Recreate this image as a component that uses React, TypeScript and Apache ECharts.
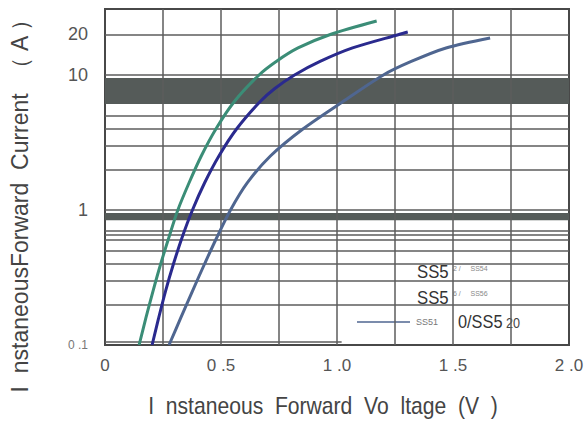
import React, { useEffect, useRef } from "react";
import * as echarts from "echarts";

// x axis (V)
const xMin = 0;
const xMax = 2.0;
const xStep = 0.25;
const gridLinesX = [0.25, 0.5, 0.75, 1.0, 1.25, 1.5, 1.75];
// y axis (A), log scale
const yMin = 0.1;
const yMax = 30.8;
const yLabelValues = [0.1, 1, 10];
const extraYLabel = 20;
const gridLinesY = [0.2, 0.3, 0.4, 0.5, 0.6, 0.65, 0.7, 1, 2, 3, 4, 5, 10, 20];
const bandsY: [number, number][] = [
  [0.84, 0.95],
  [6.1, 9.5],
];

// SS52/SS54 (green)
const greenV = [0.147, 0.176, 0.207, 0.24, 0.276, 0.314, 0.362, 0.415, 0.478, 0.556, 0.664, 0.738, 0.832, 0.971, 1.171];
const greenI = [0.1, 0.158, 0.251, 0.398, 0.631, 1.0, 1.585, 2.512, 3.981, 6.31, 10.0, 12.59, 15.85, 19.95, 25.1];
// SS55/SS56 (navy)
const blueV = [0.203, 0.231, 0.261, 0.295, 0.333, 0.377, 0.429, 0.491, 0.567, 0.667, 0.732, 0.817, 0.927, 1.067, 1.267, 1.305];
const blueI = [0.1, 0.158, 0.251, 0.398, 0.631, 1.0, 1.585, 2.512, 3.981, 6.31, 7.94, 10.0, 12.59, 15.85, 19.95, 20.8];
// SS510/SS520 (grey blue)
const greyV = [0.276, 0.326, 0.377, 0.429, 0.483, 0.541, 0.613, 0.713, 0.853, 1.023, 1.2, 1.32, 1.47, 1.66];
const greyI = [0.1, 0.158, 0.251, 0.398, 0.631, 1.0, 1.585, 2.512, 3.981, 6.31, 10.0, 12.59, 15.85, 18.8];

const zip = (a: number[], b: number[]) => a.map((v, i) => [v, b[i]]);

const SANS = '"Liberation Sans", Arial, sans-serif';

export default function App() {
  const ref = useRef<HTMLDivElement>(null);
  useEffect(() => {
    if (!ref.current) return;
    const chart = echarts.init(ref.current, undefined, { renderer: "svg" });
    const gridColor = "#5c5c5c";
    const curve = (name: string, data: number[][], color: string) => ({
      type: "line",
      name,
      data,
      smooth: 0.3,
      showSymbol: false,
      silent: true,
      z: 5,
      lineStyle: { color, width: 3 },
    });
    const txt = (
      x: number,
      y: number,
      text: string,
      fontSize: number,
      fill: string,
      scaleX = 1
    ) => ({
      type: "text",
      x,
      y,
      scaleX,
      silent: true,
      style: { text, fontFamily: SANS, fontSize, fill, align: "left", verticalAlign: "middle" },
    });
    chart.setOption({
      animation: false,
      backgroundColor: "#ffffff",
      grid: {
        left: 105,
        right: 18,
        top: 9,
        bottom: 78,
        show: true,
        borderColor: "#484848",
        borderWidth: 2,
      },
      xAxis: {
        type: "value",
        min: xMin,
        max: xMax,
        interval: xStep,
        axisLine: { show: true, lineStyle: { color: "#484848", width: 2 } },
        axisTick: { show: false },
        splitLine: { show: false },
        axisLabel: {
          margin: 12,
          fontFamily: SANS,
          fontSize: 17,
          color: "#555",
          formatter: (v: number) => {
            const k = Math.round(v * 100) / 100;
            if (Math.abs(k * 2 - Math.round(k * 2)) > 1e-6) return "";
            if (k === 0) return "0";
            return k.toFixed(1).replace(".", " .");
          },
        },
      },
      yAxis: {
        type: "log",
        logBase: 10,
        min: yMin,
        max: yMax,
        axisLine: { show: true, lineStyle: { color: "#484848", width: 2 } },
        axisTick: { show: false },
        splitLine: { show: false },
        axisLabel: {
          margin: 17,
          showMaxLabel: false,
          fontFamily: SANS,
          fontSize: 18,
          color: "#555",
          rich: { small: { fontSize: 12, color: "#777", fontFamily: SANS } },
          formatter: (v: number) => {
            const hit = yLabelValues.find((t) => Math.abs(Math.log10(v) - Math.log10(t)) < 1e-6);
            if (hit === undefined) return "";
            if (hit < 1) return "{small|0 .1}";
            return String(hit);
          },
        },
      },
      series: [
        {
          type: "line",
          data: [],
          silent: true,
          z: 1,
          markLine: {
            silent: true,
            symbol: "none",
            animation: false,
            lineStyle: { color: gridColor, width: 1.5, type: "solid" },
            data: [
              ...gridLinesX.map((v) => ({ xAxis: v, label: { show: false } })),
              ...gridLinesY.map((v) => ({
                yAxis: v,
                label:
                  v === extraYLabel
                    ? {
                        show: true,
                        position: "start",
                        distance: 17,
                        formatter: String(v),
                        fontFamily: SANS,
                        fontSize: 18,
                        color: "#555",
                      }
                    : { show: false },
              })),
              [
                { coord: [0, 0.106], label: { show: false } },
                { coord: [1.02, 0.106] },
              ],
            ],
          },
          markArea: {
            silent: true,
            itemStyle: { color: "#555b59" },
            data: bandsY.map(([a, b]) => [{ yAxis: a }, { yAxis: b }]),
          },
        },
        curve("SS52/SS54", zip(greenV, greenI), "#3b8d77"),
        curve("SS55/SS56", zip(blueV, blueI), "#2a2a8e"),
        curve("SS510/SS520", zip(greyV, greyI), "#4f6690"),
      ],
      graphic: [
        {
          type: "text",
          x: 20,
          y: 200,
          rotation: Math.PI / 2,
          silent: true,
          style: {
            text: "I  nstaneousForward  Current  （ A ）",
            fontFamily: SANS,
            fontSize: 23,
            fill: "#444",
            align: "center",
            verticalAlign: "middle",
          },
        },
        {
          type: "text",
          x: 323,
          y: 406,
          scaleX: 0.88,
          silent: true,
          style: {
            text: "I  nstaneous  Forward  Vo  ltage  (V  )",
            fontFamily: SANS,
            fontSize: 24,
            fill: "#444",
            align: "center",
            verticalAlign: "middle",
          },
        },
        // legend rows
        txt(417, 272, "SS5", 19, "#333", 0.88),
        txt(453, 268, "2 /     SS54", 7, "#888"),
        txt(417, 298, "SS5", 19, "#333", 0.88),
        txt(453, 293, "6 /     SS56", 7, "#888"),
        {
          type: "line",
          silent: true,
          shape: { x1: 357, y1: 322, x2: 410, y2: 322 },
          style: { stroke: "#4f6690", lineWidth: 1.5 },
        },
        txt(416, 322, "SS51", 9, "#777"),
        txt(458, 322, "0/SS5", 19, "#333", 0.86),
        txt(506, 323, "20", 14, "#444", 0.9),
      ],
    });
    return () => chart.dispose();
  }, []);
  return (
    <div
      ref={ref}
      style={{ position: "fixed", left: 0, top: 0, width: 587, height: 423, background: "#fff" }}
    />
  );
}
